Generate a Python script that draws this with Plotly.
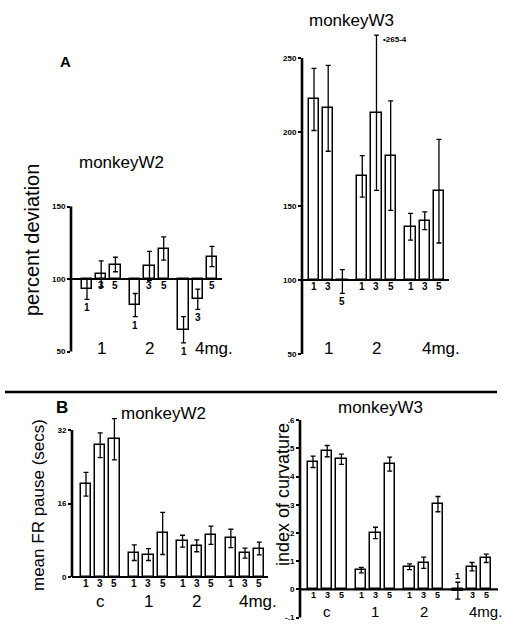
import plotly.graph_objects as go

W, H = 505, 624
FONT = "Liberation Sans"

# ---------------- data ----------------
doses = ["1", "3", "5"]
groups_A = ["1", "2", "4mg."]
groups_B = ["c", "1", "2", "4mg."]

# Panel A: percent deviation
a_w2_mean = [93, 103.5, 110, 82, 109, 121, 65, 86, 115.5]
a_w2_err = [7, 9, 5, 8, 10, 8, 9, 7, 7]
a_w3_mean = [222, 216, 99, 170, 213, 184, 136, 140, 160]
a_w3_err = [21, 29, 8, 14, 52.4, 37, 9, 6, 35]

# Panel B: mean FR pause (secs) and index of curvature
b_w2_mean = [20.2, 28.7, 30.0, 5.3, 4.9, 9.5, 7.8, 6.8, 9.1, 8.4, 5.2, 6.2]
b_w2_err = [2.6, 2.7, 4.5, 1.7, 1.3, 4.6, 1.3, 1.3, 2.0, 2.0, 1.1, 1.4]
b_w3_mean = [0.452, 0.49, 0.461, 0.068, 0.2, 0.444, 0.08, 0.094, 0.302, -0.005, 0.08, 0.11]
b_w3_err = [0.02, 0.02, 0.018, 0.01, 0.02, 0.025, 0.01, 0.02, 0.027, 0.03, 0.015, 0.015]

a_w2_ticks = [50, 100, 150]
a_w3_ticks = [50, 100, 150, 200, 250]
b_w2_ticks = [0, 16, 32]
b_w3_ticks = [-0.1, 0, 0.1, 0.2, 0.3, 0.4, 0.5, 0.6]
b_w3_ticktext = ["-.1", "0", ".1", ".2", ".3", ".4", ".5", ".6"]

# ---------------- layout helpers ----------------
PPU = 14.2   # pixels per x unit
STEP = 3.4   # group spacing in x units

panels = [
    dict(title="monkeyW2", tpos=(121, 163), mean=a_w2_mean, err=a_w2_err, groups=groups_A,
         xl=71, xr=222, x0=87, base=100, ybase=279, ppv=1.45, ytop=190, ybot=362,
         ticks=a_w2_ticks, ticktext=[str(t) for t in a_w2_ticks], neg="below", glab_y=348,
         gshift=0.35, gsize=17, dsize=10),
    dict(title="monkeyW3", tpos=(351, 20), mean=a_w3_mean, err=a_w3_err, groups=groups_A,
         xl=302, xr=449, x0=314, base=100, ybase=280, ppv=1.48, ytop=30, ybot=362,
         ticks=a_w3_ticks, ticktext=[str(t) for t in a_w3_ticks], neg="below", glab_y=348,
         gshift=0.35, gsize=17, dsize=10),
    dict(title="monkeyW2", tpos=(163, 413), mean=b_w2_mean, err=b_w2_err, groups=groups_B,
         xl=72, xr=268, x0=86, base=0, ybase=577, ppv=4.59, ytop=410, ybot=585,
         ticks=b_w2_ticks, ticktext=[str(t) for t in b_w2_ticks], neg="below", glab_y=601,
         gshift=0.6, gsize=17, dsize=10),
    dict(title="monkeyW3", tpos=(380, 407), mean=b_w3_mean, err=b_w3_err, groups=groups_B,
         xl=300, xr=498, x0=313, base=0, ybase=589.3, ppv=282, ytop=408, ybot=622,
         ticks=b_w3_ticks, ticktext=b_w3_ticktext, neg="above", glab_y=611,
         gshift=0.35, gsize=15, dsize=9),
]

fig = go.Figure()
annotations = []
shapes = []
layout_axes = {}


def px2x(px):
    return px / W


def px2y(py):
    return 1 - py / H


for i, p in enumerate(panels):
    n = i + 1
    xa = "x" if n == 1 else f"x{n}"
    ya = "y" if n == 1 else f"y{n}"
    xs = [g * STEP + d for g in range(len(p["groups"])) for d in range(3)]
    base = p["base"]

    fig.add_trace(go.Bar(
        x=xs, y=[m - base for m in p["mean"]], base=base, width=0.72,
        marker=dict(color="white", line=dict(color="black", width=1.5)),
        xaxis=xa, yaxis=ya, showlegend=False, hoverinfo="skip"))
    fig.add_trace(go.Scatter(
        x=xs, y=p["mean"], mode="markers",
        marker=dict(size=1, color="rgba(0,0,0,0)"),
        error_y=dict(type="data", array=p["err"], color="black", thickness=1.3, width=2.5),
        xaxis=xa, yaxis=ya, showlegend=False, hoverinfo="skip", cliponaxis=False))

    xr0 = (p["xl"] - p["x0"]) / PPU
    xr1 = (p["xr"] - p["x0"]) / PPU
    yr0 = base - (p["ybot"] - p["ybase"]) / p["ppv"]
    yr1 = base + (p["ybase"] - p["ytop"]) / p["ppv"]

    xkey = "xaxis" if n == 1 else f"xaxis{n}"
    ykey = "yaxis" if n == 1 else f"yaxis{n}"
    layout_axes[xkey] = dict(domain=[px2x(p["xl"]), px2x(p["xr"])], range=[xr0, xr1],
                             anchor=ya, visible=False, fixedrange=True)
    layout_axes[ykey] = dict(domain=[px2y(p["ybot"]), px2y(p["ytop"])], range=[yr0, yr1],
                             anchor=xa, showgrid=False, zeroline=False, showline=False,
                             tickmode="array", tickvals=p["ticks"], ticktext=p["ticktext"],
                             ticks="outside", ticklen=3, tickwidth=2, tickcolor="black",
                             tickfont=dict(family=FONT, size=8, color="black", weight="bold"),
                             fixedrange=True)

    # axis lines
    shapes.append(dict(type="line", xref=f"{xa} domain", yref=ya, x0=0, x1=0,
                       y0=min(p["ticks"]), y1=max(p["ticks"]),
                       line=dict(color="black", width=2.6)))
    shapes.append(dict(type="line", xref=f"{xa} domain", yref=ya, x0=0, x1=1,
                       y0=base, y1=base, line=dict(color="black", width=2.2)))

    # dose labels
    for k, (x, m, e) in enumerate(zip(xs, p["mean"], p["err"])):
        lab = doses[k % 3]
        f = dict(family=FONT, size=p["dsize"], color="black", weight="bold")
        if m >= base:
            annotations.append(dict(x=x, y=base, xref=xa, yref=ya, text=lab, showarrow=False,
                                    xanchor="center", yanchor="top", yshift=1, font=f))
        elif p["neg"] == "below":
            annotations.append(dict(x=x, y=m - e, xref=xa, yref=ya, text=lab, showarrow=False,
                                    xanchor="center", yanchor="top", yshift=-1, font=f))
        else:
            annotations.append(dict(x=x, y=m + e, xref=xa, yref=ya, text=lab, showarrow=False,
                                    xanchor="center", yanchor="bottom", yshift=-1, font=f))

    # group labels
    for g, gl in enumerate(p["groups"]):
        mid = g * STEP + 1
        gf = dict(family=FONT, size=p["gsize"], color="black")
        if gl.startswith("4"):
            annotations.append(dict(x=mid - p["gshift"], y=px2y(p["glab_y"]), xref=xa, yref="paper",
                                    text=gl, showarrow=False, xanchor="left", yanchor="middle",
                                    font=gf))
        else:
            annotations.append(dict(x=mid, y=px2y(p["glab_y"]), xref=xa, yref="paper",
                                    text=gl, showarrow=False, xanchor="center", yanchor="middle",
                                    font=gf))

    # title
    annotations.append(dict(x=px2x(p["tpos"][0]), y=px2y(p["tpos"][1]), xref="paper", yref="paper",
                            text=p["title"], showarrow=False, xanchor="center", yanchor="middle",
                            font=dict(family=FONT, size=17, color="black")))

# annotation for the tall error bar in A / monkeyW3
annotations.append(dict(x=1 * STEP + 1 + 0.3, y=a_w3_mean[4] + a_w3_err[4], xref="x2", yref="y2",
                        text="\u2022265-4", showarrow=False, xanchor="left", yanchor="middle",
                        yshift=-4, font=dict(family=FONT, size=8, color="black", weight="bold")))


def vtitle(text, cx, cy, size):
    return dict(x=px2x(cx), y=px2y(cy), xref="paper", yref="paper", text=text,
                textangle=-90, showarrow=False, xanchor="center", yanchor="middle",
                font=dict(family=FONT, size=size, color="black"))


# y-axis titles
annotations.append(vtitle("percent deviation", 32, 240, 20))
annotations.append(vtitle("mean FR pause (secs)", 38, 505, 17))
annotations.append(vtitle("index of curvature", 283, 495, 18))

# panel letters
annotations.append(dict(x=px2x(65), y=px2y(62), xref="paper", yref="paper", text="<b>A</b>",
                        showarrow=False, xanchor="center", yanchor="middle",
                        font=dict(family=FONT, size=15, color="black")))
annotations.append(dict(x=px2x(62), y=px2y(407), xref="paper", yref="paper", text="<b>B</b>",
                        showarrow=False, xanchor="center", yanchor="middle",
                        font=dict(family=FONT, size=17, color="black")))

# separator line
shapes.append(dict(type="line", xref="paper", yref="paper", x0=px2x(5), x1=px2x(497),
                   y0=px2y(392), y1=px2y(392), line=dict(color="black", width=2.5)))

fig.update_layout(
    width=W, height=H, margin=dict(l=0, r=0, t=0, b=0),
    paper_bgcolor="white", plot_bgcolor="rgba(0,0,0,0)",
    annotations=annotations, shapes=shapes, bargap=0,
    font=dict(family=FONT, color="black"),
    **layout_axes,
)

fig.write_html("out.html", config={"displayModeBar": False},
               post_script="document.body.style.margin='0px';document.body.style.overflow='hidden';")
